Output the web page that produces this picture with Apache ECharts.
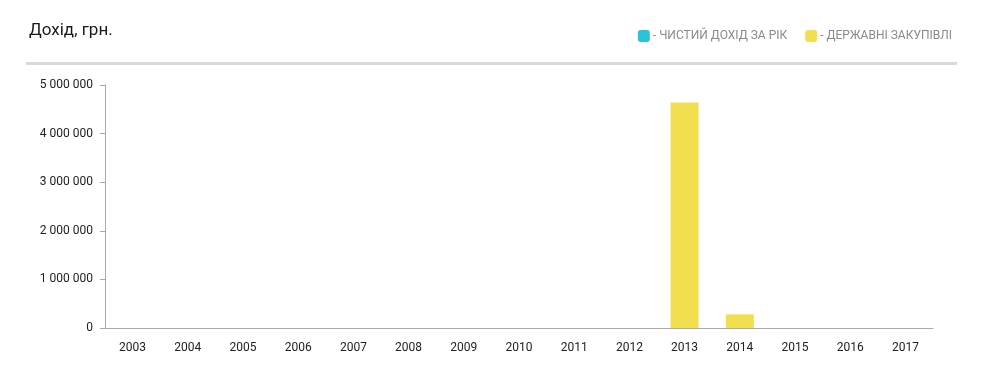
<!DOCTYPE html>
<html>
<head>
<meta charset="utf-8">
<script src="https://cdn.jsdelivr.net/npm/echarts@6/dist/echarts.min.js"></script>
<style>
html,body{margin:0;padding:0;background:#fff;}
#chart{width:983px;height:380px;}
</style>
</head>
<body>
<div id="chart"></div>
<script>
const titleText = 'Дохід, грн.';
const years = ['2003','2004','2005','2006','2007','2008','2009','2010','2011','2012','2013','2014','2015','2016','2017'];
const netIncomeName = 'ЧИСТИЙ ДОХІД ЗА РІК';
const netIncome = [null,null,null,null,null,null,null,null,null,null,null,null,null,null,null];
const procurementName = 'ДЕРЖАВНІ ЗАКУПІВЛІ';
const procurement = [null,null,null,null,null,null,null,null,null,null,4640000,280000,null,null,null];
const yMax = 5000000;
const yStep = 1000000;

const chart = echarts.init(document.getElementById('chart'), null, {renderer:'canvas'});
function fmt(v){ return String(v).replace(/\B(?=(\d{3})+(?!\d))/g, ' '); }
chart.setOption({
  animation:false,
  textStyle:{fontFamily:'Roboto, "Noto Sans", sans-serif'},
  title:{
    text:titleText, left:24, top:17,
    textStyle:{fontSize:17, fontWeight:'normal', color:'#1a1a1a', fontFamily:'Roboto, sans-serif'}
  },
  graphic:[{
    type:'rect', shape:{x:26, y:62, width:931, height:3}, style:{fill:'#d9d9d9'}, silent:true
  }],
  legend:{
    right:26, top:25, icon:'roundRect', itemWidth:12, itemHeight:12, itemGap:18,
    selectedMode:false,
    formatter: n => '- ' + n,
    textStyle:{fontSize:12, color:'#8a8a8a', fontFamily:'"Roboto", sans-serif', padding:[0,0,0,-2]}
  },
  grid:{left:105, right:50, top:85, bottom:52, containLabel:false},
  xAxis:{
    type:'category', data:years,
    axisLine:{lineStyle:{color:'#aaaaaa'}},
    axisTick:{alignWithLabel:true, length:5, lineStyle:{color:'#aaaaaa'}},
    axisLabel:{color:'#222', fontSize:12, margin:14}
  },
  yAxis:{
    type:'value', min:0, max:yMax, interval:yStep,
    axisLine:{show:true, lineStyle:{color:'#aaaaaa'}},
    axisTick:{show:true, length:5, lineStyle:{color:'#aaaaaa'}},
    splitLine:{show:false},
    axisLabel:{color:'#222', fontSize:12, margin:12, formatter: v => fmt(v)}
  },
  series:[
    {name:netIncomeName, type:'bar', data:netIncome, barWidth:28, barGap:'-100%', itemStyle:{color:'#29c4dc'}},
    {name:procurementName, type:'bar', data:procurement, barWidth:28, barGap:'-100%', itemStyle:{color:'#f2df50'}}
  ]
});
</script>
</body>
</html>
